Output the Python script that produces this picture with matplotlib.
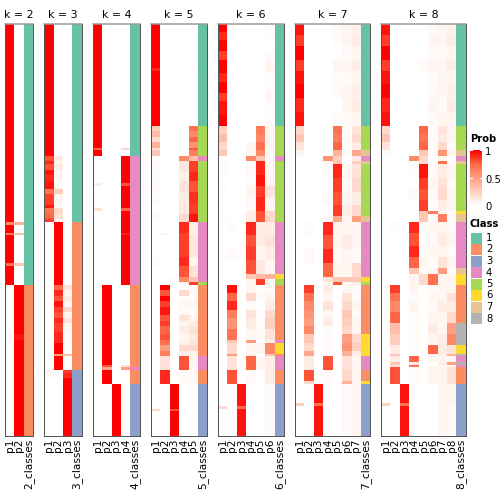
import numpy as np
import matplotlib
matplotlib.use("Agg")
import matplotlib.pyplot as plt
from matplotlib.colors import LinearSegmentedColormap, ListedColormap

# class colours (1..8)
CLASS_COLORS = ["#66C2A5", "#FC8D62", "#8DA0CB", "#E78AC3",
                "#A6D854", "#FFD92F", "#E5C494", "#B3B3B3"]
PROB_COLORS = ["#FFFFFF", "#FFD0BF", "#FF9E82", "#FF6846", "#FF0000"]

# segments: (class, number of rows, membership probs p1..pk)
K2 = [
    (1, 72, [1.0, 0.0]), (1, 1, [0.6, 0.4]), (1, 3, [1.0, 0.0]),
    (1, 1, [0.65, 0.35]), (1, 10, [1.0, 0.0]), (1, 1, [0.7, 0.3]),
    (1, 7, [1.0, 0.0]),
    (2, 18, [0.0, 1.0]), (2, 2, [0.04, 0.95]), (2, 35, [0.0, 1.0]),
]
K3 = [
    (1, 48, [1.0, 0.0, 0.0]), (1, 2, [0.8, 0.1, 0.0]), (1, 1, [0.9, 0.05, 0.0]),
    (1, 2, [0.8, 0.1, 0.0]), (1, 2, [0.95, 0.05, 0.0]), (1, 2, [0.9, 0.05, 0.0]),
    (1, 3, [0.95, 0.03, 0.0]), (1, 2, [0.7, 0.25, 0.0]), (1, 4, [0.85, 0.05, 0.0]),
    (1, 1, [0.95, 0.02, 0.0]), (1, 2, [0.7, 0.2, 0.0]), (1, 2, [0.75, 0.15, 0.0]),
    (1, 1, [0.85, 0.05, 0.0]),
    (2, 23, [0.0, 1.0, 0.0]), (2, 2, [0.0, 0.75, 0.15]), (2, 2, [0.0, 0.9, 0.05]),
    (2, 2, [0.0, 0.8, 0.1]), (2, 2, [0.0, 0.95, 0.05]), (2, 2, [0.0, 0.85, 0.2]),
    (2, 2, [0.0, 0.8, 0.05]), (2, 2, [0.0, 0.9, 0.15]), (2, 3, [0.0, 0.85, 0.05]),
    (2, 4, [0.0, 0.9, 0.02]), (2, 4, [0.0, 1.0, 0.0]), (2, 1, [0.0, 0.5, 0.35]),
    (2, 5, [0.0, 1.0, 0.0]),
    (3, 1, [0.06, 0.0, 0.85]), (3, 2, [0.03, 0.0, 0.9]), (3, 21, [0.0, 0.0, 1.0]),
]
K4 = [
    (1, 45, [1.0, 0.0, 0.0, 0.0]), (1, 1, [0.75, 0.0, 0.0, 0.2]), (1, 2, [1.0, 0.0, 0.0, 0.0]),
    (4, 10, [0.0, 0.0, 0.0, 1.0]), (4, 1, [0.1, 0.0, 0.0, 0.8]), (4, 8, [0.0, 0.0, 0.0, 1.0]),
    (4, 1, [0.15, 0.0, 0.0, 0.75]), (4, 8, [0.0, 0.0, 0.0, 1.0]), (4, 1, [0.02, 0.0, 0.0, 0.92]),
    (4, 18, [0.0, 0.0, 0.0, 1.0]),
    (2, 29, [0.0, 1.0, 0.0, 0.0]), (2, 1, [0.0, 0.8, 0.0, 0.15]), (4, 1, [0.0, 0.45, 0.0, 0.5]),
    (2, 5, [0.0, 1.0, 0.0, 0.0]),
    (3, 19, [0.0, 0.0, 1.0, 0.0]),
]
K5 = [
    (1, 16, [1.0, 0, 0, 0, 0]), (1, 1, [0.9, 0, 0, 0, 0.03]), (1, 20, [1.0, 0, 0, 0, 0]),
    (5, 2, [0.25, 0, 0, 0, 0.7]), (5, 2, [0.35, 0, 0, 0, 0.6]), (5, 2, [0.2, 0, 0, 0, 0.75]),
    (5, 2, [0.4, 0, 0, 0, 0.55]), (5, 1, [0.15, 0, 0, 0, 0.8]), (5, 2, [0.3, 0, 0, 0, 0.65]),
    (4, 2, [0, 0, 0, 0.6, 0.35]),
    (5, 4, [0.03, 0, 0, 0.12, 0.85]), (5, 3, [0.02, 0, 0, 0.08, 0.9]), (5, 4, [0.03, 0, 0, 0.15, 0.8]),
    (5, 4, [0.02, 0, 0, 0.1, 0.88]), (5, 4, [0, 0, 0, 0.12, 0.85]), (5, 3, [0.03, 0, 0, 0.2, 0.95]),
    (4, 4, [0, 0, 0, 0.9, 0.08]), (4, 1, [0, 0.05, 0, 0.85, 0.1]), (4, 8, [0, 0, 0, 0.85, 0.12]),
    (4, 3, [0.02, 0, 0, 0.9, 0.05]), (4, 4, [0, 0, 0, 0.8, 0.15]), (4, 2, [0, 0, 0.02, 0.6, 0.3]),
    (5, 1, [0, 0, 0, 0.05, 0.85]),
    (2, 2, [0, 1.0, 0, 0.0, 0.02]), (2, 2, [0, 0.8, 0, 0.2, 0.02]), (2, 2, [0, 1.0, 0, 0.02, 0.03]),
    (2, 2, [0, 0.85, 0, 0.05, 0.05]), (2, 3, [0, 0.95, 0, 0.03, 0.02]), (2, 2, [0, 0.8, 0, 0.15, 0.05]),
    (2, 2, [0, 0.85, 0, 0.05, 0.1]), (2, 3, [0, 0.75, 0, 0.1, 0.15]), (2, 2, [0, 0.8, 0, 0.05, 0.1]),
    (2, 2, [0, 0.7, 0, 0.08, 0.15]), (2, 2, [0, 0.5, 0, 0.2, 0.2]), (2, 2, [0, 0.65, 0, 0.1, 0.05]),
    (4, 5, [0, 0.15, 0, 0.8, 0.05]),
    (2, 5, [0, 0.9, 0, 0.03, 0.03]),
    (3, 9, [0, 0, 1.0, 0, 0]), (3, 1, [0.2, 0, 0.8, 0, 0]), (3, 9, [0, 0, 1.0, 0, 0]),
]
K6 = [
    (1, 3, [1.0, 0, 0, 0, 0, 0.03]), (1, 3, [0.9, 0, 0, 0, 0, 0.02]), (1, 4, [1.0, 0, 0, 0, 0, 0.0]),
    (1, 3, [0.85, 0, 0, 0, 0, 0.03]), (1, 5, [1.0, 0, 0, 0, 0, 0.05]), (1, 3, [0.9, 0, 0, 0, 0, 0.02]),
    (1, 4, [1.0, 0, 0, 0, 0, 0.03]), (1, 3, [0.85, 0, 0, 0, 0, 0.05]), (1, 5, [0.95, 0, 0, 0, 0, 0.02]),
    (1, 4, [1.0, 0, 0, 0, 0, 0.03]),
    (5, 3, [0.25, 0, 0, 0, 0.65, 0.05]), (5, 3, [0.35, 0, 0, 0, 0.6, 0.05]), (5, 3, [0.2, 0, 0, 0.05, 0.7, 0.05]),
    (5, 2, [0.3, 0, 0, 0.05, 0.6, 0.03]),
    (4, 2, [0, 0, 0, 0.6, 0.3, 0.03]),
    (5, 5, [0.02, 0, 0, 0.03, 0.9, 0.05]), (5, 4, [0, 0, 0, 0.02, 0.95, 0.05]), (5, 4, [0.02, 0, 0, 0.05, 0.85, 0.15]),
    (5, 5, [0, 0, 0, 0.03, 0.9, 0.05]), (5, 4, [0.02, 0, 0, 0.1, 0.8, 0.2]),
    (4, 5, [0, 0.02, 0, 0.9, 0.1, 0.1]), (4, 4, [0, 0, 0, 0.8, 0.1, 0.15]), (4, 5, [0, 0.03, 0, 0.85, 0.05, 0.1]),
    (4, 5, [0, 0, 0, 0.8, 0.12, 0.05]),
    (6, 2, [0, 0, 0, 0.3, 0.35, 0.4]),
    (5, 2, [0, 0, 0, 0.05, 0.85, 0.05]),
    (2, 3, [0, 0.95, 0, 0.05, 0.0, 0.03]), (2, 3, [0, 0.75, 0, 0.2, 0.02, 0.05]), (2, 3, [0, 0.9, 0, 0.03, 0.0, 0.1]),
    (2, 3, [0, 0.65, 0, 0.15, 0.02, 0.2]), (2, 4, [0, 0.55, 0, 0.1, 0.02, 0.25]), (2, 4, [0, 0.7, 0, 0.05, 0.03, 0.15]),
    (4, 1, [0, 0.3, 0, 0.5, 0, 0.1]),
    (6, 4, [0, 0.2, 0, 0.05, 0.05, 0.6]),
    (2, 1, [0, 0.5, 0, 0.1, 0, 0.3]),
    (4, 5, [0, 0.15, 0, 0.75, 0.05, 0.1]),
    (2, 5, [0, 0.8, 0, 0.03, 0, 0.1]),
    (3, 8, [0, 0, 0.95, 0, 0, 0.03]), (3, 1, [0.2, 0, 0.75, 0, 0, 0.03]), (3, 10, [0, 0, 0.95, 0, 0, 0.03]),
]
K7 = [
    (1, 4, [0.95, 0, 0, 0, 0.03, 0.05, 0.08]), (1, 4, [0.85, 0, 0, 0, 0.02, 0.05, 0.1]),
    (1, 5, [1.0, 0, 0, 0, 0.0, 0.03, 0.05]), (1, 4, [0.85, 0, 0, 0, 0.05, 0.05, 0.1]),
    (1, 5, [0.95, 0, 0, 0, 0.02, 0.03, 0.05]), (1, 5, [1.0, 0, 0, 0, 0.03, 0.05, 0.08]),
    (1, 5, [0.9, 0, 0, 0, 0.0, 0.05, 0.1]), (1, 5, [0.95, 0, 0, 0, 0.02, 0.03, 0.05]),
    (5, 3, [0.2, 0, 0, 0, 0.7, 0.02, 0.15]), (5, 3, [0.3, 0, 0, 0, 0.65, 0.03, 0.2]), (5, 3, [0.15, 0, 0, 0, 0.75, 0.02, 0.1]),
    (7, 2, [0.05, 0, 0, 0, 0.4, 0.02, 0.45]),
    (4, 2, [0, 0, 0, 0.55, 0.25, 0.0, 0.1]),
    (7, 1, [0, 0, 0, 0.05, 0.3, 0.02, 0.25]),
    (5, 5, [0, 0, 0, 0.02, 0.9, 0.05, 0.15]), (5, 5, [0, 0, 0, 0.0, 0.85, 0.03, 0.2]),
    (5, 5, [0, 0, 0, 0.03, 0.8, 0.05, 0.1]), (5, 4, [0, 0, 0, 0.0, 0.85, 0.08, 0.2]),
    (7, 2, [0, 0, 0, 0.05, 0.45, 0.05, 0.5]),
    (4, 5, [0, 0.02, 0, 0.9, 0.05, 0.05, 0.05]), (4, 5, [0, 0, 0, 0.8, 0.05, 0.1, 0.05]),
    (4, 5, [0, 0.03, 0, 0.9, 0.02, 0.05, 0.03]), (4, 5, [0, 0, 0, 0.75, 0.05, 0.05, 0.2]),
    (6, 2, [0, 0, 0, 0.15, 0.3, 0.3, 0.3]),
    (5, 1, [0, 0, 0, 0.05, 0.8, 0.05, 0.1]),
    (2, 3, [0, 0.85, 0, 0.1, 0, 0.05, 0.02]), (2, 3, [0, 0.7, 0, 0.05, 0, 0.15, 0.03]),
    (2, 3, [0, 0.6, 0, 0.15, 0, 0.2, 0.05]), (2, 3, [0, 0.55, 0, 0.05, 0, 0.3, 0.03]),
    (2, 3, [0, 0.5, 0, 0.1, 0, 0.25, 0.05]), (2, 3, [0, 0.6, 0, 0.02, 0, 0.2, 0.05]),
    (6, 3, [0, 0.3, 0, 0.02, 0, 0.5, 0.2]), (6, 3, [0, 0.2, 0, 0.03, 0, 0.55, 0.25]), (6, 2, [0, 0.45, 0, 0.02, 0, 0.4, 0.1]),
    (4, 5, [0, 0.1, 0, 0.8, 0, 0.15, 0.05]),
    (2, 4, [0, 0.8, 0, 0.03, 0, 0.2, 0.05]),
    (6, 1, [0, 0.2, 0, 0.02, 0, 0.4, 0.05]),
    (3, 7, [0, 0, 0.95, 0, 0, 0.03, 0.05]), (3, 1, [0.25, 0, 0.7, 0, 0, 0.03, 0.05]), (3, 11, [0, 0, 0.95, 0, 0, 0.03, 0.05]),
]
K8 = [
    (1, 4, [0.95, 0, 0, 0, 0, 0.03, 0.05, 0.08]), (1, 4, [0.85, 0, 0, 0, 0, 0.05, 0.05, 0.1]),
    (1, 5, [1.0, 0, 0, 0, 0, 0.03, 0.03, 0.05]), (1, 4, [0.85, 0, 0, 0, 0.03, 0.05, 0.05, 0.1]),
    (1, 5, [0.95, 0, 0, 0, 0, 0.02, 0.05, 0.05]), (1, 5, [1.0, 0, 0, 0, 0, 0.03, 0.05, 0.08]),
    (1, 5, [0.9, 0, 0, 0, 0, 0.05, 0.03, 0.1]), (1, 5, [0.95, 0, 0, 0, 0, 0.03, 0.05, 0.05]),
    (5, 3, [0.2, 0, 0, 0, 0.75, 0.02, 0.15, 0.05]), (5, 3, [0.3, 0, 0, 0, 0.7, 0.03, 0.1, 0.05]),
    (5, 3, [0.15, 0, 0, 0, 0.75, 0.02, 0.2, 0.03]),
    (7, 2, [0.02, 0, 0, 0, 0.3, 0.02, 0.55, 0.05]),
    (4, 2, [0, 0, 0, 0.6, 0.2, 0.0, 0.05, 0.0]),
    (7, 1, [0, 0, 0, 0.02, 0.2, 0.0, 0.7, 0.03]),
    (5, 5, [0, 0, 0, 0.02, 0.95, 0.03, 0.1, 0.05]), (5, 4, [0, 0, 0, 0.0, 0.85, 0.05, 0.15, 0.03]),
    (5, 4, [0, 0, 0, 0.03, 0.8, 0.03, 0.2, 0.05]), (5, 4, [0, 0, 0, 0.0, 0.85, 0.02, 0.1, 0.05]),
    (6, 1, [0, 0, 0, 0.0, 0.3, 0.65, 0.05, 0.0]),
    (7, 3, [0, 0, 0, 0.0, 0.3, 0.02, 0.65, 0.03]),
    (4, 4, [0, 0.02, 0, 0.9, 0.03, 0.05, 0.05, 0.03]), (4, 5, [0, 0, 0, 0.8, 0.02, 0.03, 0.1, 0.05]),
    (4, 4, [0, 0, 0, 0.9, 0.02, 0.05, 0.05, 0.02]), (4, 4, [0, 0, 0, 0.75, 0.05, 0.02, 0.15, 0.05]),
    (7, 2, [0, 0, 0, 0.3, 0.02, 0.05, 0.5, 0.03]),
    (6, 4, [0, 0, 0, 0.05, 0.2, 0.7, 0.05, 0.05]),
    (2, 3, [0, 0.85, 0, 0.05, 0, 0.03, 0.05, 0.05]), (2, 3, [0, 0.7, 0, 0.02, 0, 0.05, 0.05, 0.15]),
    (2, 4, [0, 0.6, 0, 0.05, 0, 0.03, 0.1, 0.1]), (2, 4, [0, 0.75, 0, 0.02, 0, 0.05, 0.05, 0.2]),
    (8, 4, [0, 0.35, 0, 0.03, 0, 0.1, 0.05, 0.5]), (8, 4, [0, 0.25, 0, 0.02, 0, 0.05, 0.1, 0.6]),
    (6, 3, [0, 0.1, 0, 0.02, 0, 0.75, 0.1, 0.15]),
    (8, 1, [0, 0.3, 0, 0.0, 0, 0.05, 0.1, 0.4]),
    (4, 2, [0, 0.1, 0, 0.75, 0, 0.05, 0.05, 0.05]),
    (8, 1, [0, 0.3, 0, 0.1, 0, 0.0, 0.1, 0.5]),
    (4, 1, [0, 0.15, 0, 0.7, 0, 0.03, 0.05, 0.05]),
    (2, 6, [0, 0.8, 0, 0.02, 0, 0.05, 0.05, 0.15]),
    (3, 7, [0, 0, 0.95, 0, 0, 0.0, 0.05, 0.05]), (3, 1, [0.25, 0, 0.7, 0, 0, 0.0, 0.05, 0.05]),
    (3, 11, [0, 0, 0.95, 0, 0, 0.0, 0.05, 0.03]),
]
SEGMENTS = {2: K2, 3: K3, 4: K4, 5: K5, 6: K6, 7: K7, 8: K8}

W = 504.0
TOP, BOTTOM = 24, 436
COL_W = 9.4
GAP = 11.0
LEFT0 = 5.0


def px_axes(fig, x, y, w, h):
    return fig.add_axes([x / W, 1 - (y + h) / W, w / W, h / W])


prob_cmap = LinearSegmentedColormap.from_list("prob", PROB_COLORS)
class_cmap = ListedColormap(CLASS_COLORS)

fig = plt.figure(figsize=(7, 7), dpi=72)

left = LEFT0
for k in range(2, 9):
    segs = SEGMENTS[k]
    counts = [s[1] for s in segs]
    classes = np.repeat([s[0] for s in segs], counts)
    probs = np.repeat(np.array([s[2] for s in segs], dtype=float), counts, axis=0)
    n = len(classes)
    width = (k + 1) * COL_W
    ax = px_axes(fig, left, TOP, width, BOTTOM - TOP)
    ax.imshow(probs, cmap=prob_cmap, vmin=0, vmax=1, aspect="auto",
              interpolation="nearest", extent=(0, k, n, 0))
    ax.imshow(classes[:, None], cmap=class_cmap, vmin=0.5, vmax=8.5, aspect="auto",
              interpolation="nearest", extent=(k, k + 1, n, 0))
    ax.set_xlim(0, k + 1)
    ax.set_ylim(n, 0)
    ax.set_yticks([])
    ax.set_xticks(np.arange(k + 1) + 0.5)
    ax.set_xticklabels(["p%d" % (i + 1) for i in range(k)] + ["%d_classes" % k],
                       rotation=90, fontsize=10.5)
    ax.tick_params(axis="x", length=0, pad=3)
    for sp in ax.spines.values():
        sp.set_color("#555555")
        sp.set_linewidth(1.0)
    ax.spines["top"].set_color("#999999")
    ax.spines["top"].set_linewidth(1.5)
    ax.set_title("k = %d" % k, fontsize=11, pad=6)
    left += width + GAP

# probability legend
fig.text(470 / W, 1 - 139 / W, "Prob", fontsize=10, fontweight="bold", va="center")
cax = px_axes(fig, 470, 150, 12, 56)
grad = np.linspace(1, 0, 100)[:, None]
cax.imshow(grad, cmap=prob_cmap, vmin=0, vmax=1, aspect="auto", extent=(0, 1, 0, 1))
cax.axis("off")
for yv in [0.0, 0.5, 1.0]:
    cax.plot([0, 0.2], [yv, yv], color="white", lw=1)
    cax.plot([0.8, 1], [yv, yv], color="white", lw=1)
for yv, lab in [(152, "1"), (180, "0.5"), (207, "0")]:
    fig.text(485 / W, 1 - yv / W, lab, fontsize=10, va="center")

# class legend
fig.text(470 / W, 1 - 224 / W, "Class", fontsize=10, fontweight="bold", va="center")
for i, col in enumerate(CLASS_COLORS):
    yc = 238 + i * 11.5
    bax = px_axes(fig, 471, yc - 5.5, 11, 11)
    bax.add_patch(plt.Rectangle((0, 0), 1, 1, color=col))
    bax.set_xlim(0, 1)
    bax.set_ylim(0, 1)
    bax.axis("off")
    fig.text(486 / W, 1 - yc / W, str(i + 1), fontsize=10, va="center")

fig.savefig("out.png", dpi=72)
